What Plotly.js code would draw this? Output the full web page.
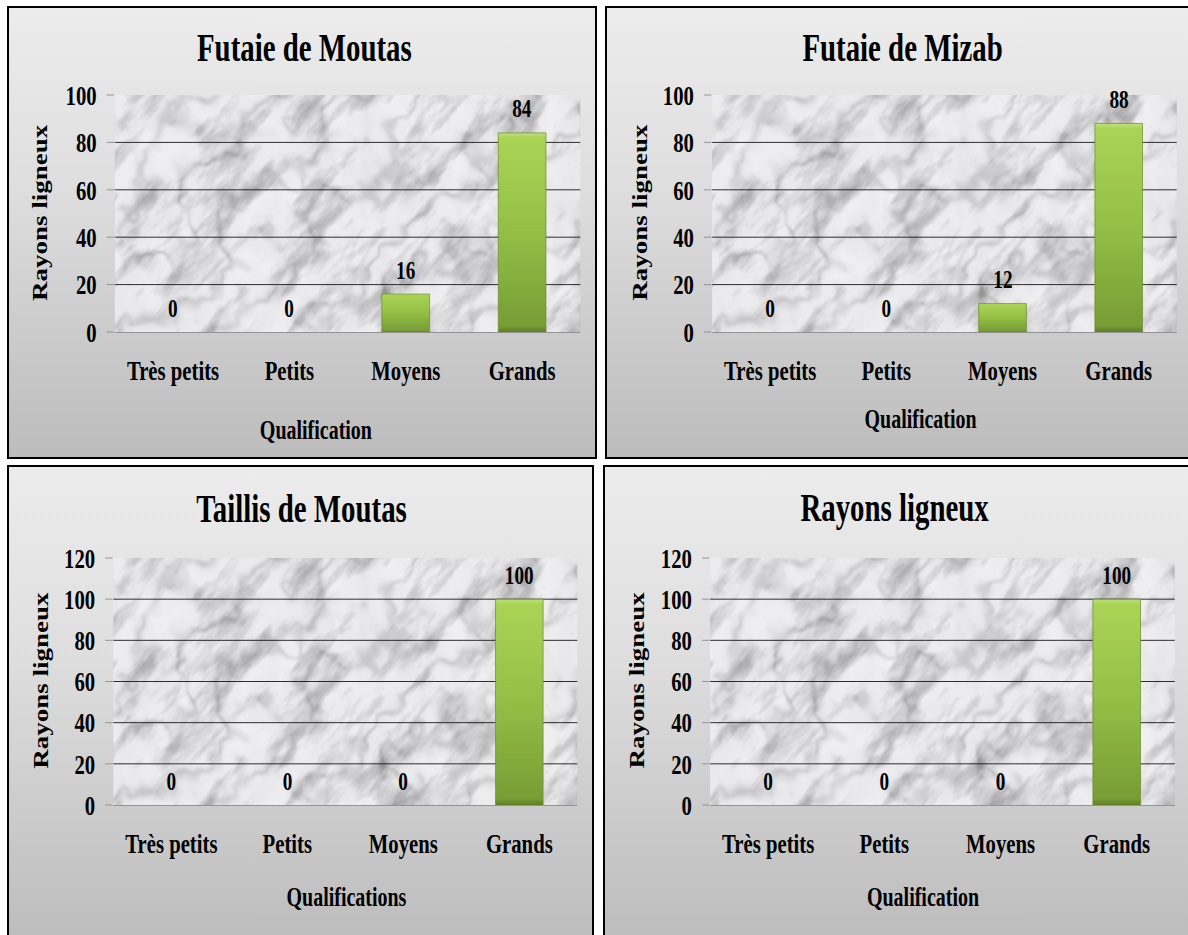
<!DOCTYPE html>
<html>
<head>
<meta charset="utf-8">
<script src="https://cdn.plot.ly/plotly-3.0.1.min.js"></script>
<style>
html,body{margin:0;padding:0;background:#fff;}
body{width:1188px;height:935px;overflow:hidden;position:relative;}
.panel{position:absolute;box-sizing:border-box;border:2px solid #000;
  background:linear-gradient(to bottom,#ececec 0%,#dedede 40%,#bcbcbc 100%);overflow:hidden;}
.plot{position:absolute;left:0;top:0;transform-origin:0 0;}
</style>
</head>
<body>
<div id="p1" class="panel"><div id="c1" class="plot"></div></div>
<div id="p2" class="panel"><div id="c2" class="plot"></div></div>
<div id="p3" class="panel"><div id="c3" class="plot"></div></div>
<div id="p4" class="panel"><div id="c4" class="plot"></div></div>
<script>
// ---------------- DATA ----------------
const categories = ['Très petits', 'Petits', 'Moyens', 'Grands'];
const futaieMoutas = [0, 0, 16, 84];
const futaieMizab = [0, 0, 12, 88];
const taillisMoutas = [0, 0, 0, 100];
const rayonsLigneux = [0, 0, 0, 100];
const chartTitles = ['Futaie de Moutas', 'Futaie de Mizab', 'Taillis de Moutas', 'Rayons ligneux'];
const xAxisTitles = ['Qualification', 'Qualification', 'Qualifications', 'Qualification'];
const yAxisTitle = 'Rayons ligneux';
const yMax = [100, 100, 120, 120];
const seriesList = [futaieMoutas, futaieMizab, taillisMoutas, rayonsLigneux];

// ---------------- LAYOUT GEOMETRY (final pixels) ----------------
const S = 0.74; // horizontal condensation of the original picture
const panels = [
  {id:'1', left:7,   top:6,   w:590, h:453, plot:[115,580,95,332],  title:[304,47],  xt:[316,430], yt:[41,212]},
  {id:'2', left:605, top:6,   w:590, h:453, plot:[712,1177,95,332], title:[903,47],  xt:[921,419], yt:[640,212]},
  {id:'3', left:7,   top:465, w:587, h:480, plot:[113,577,558,805], title:[301,508], xt:[346,897], yt:[41,680]},
  {id:'4', left:603, top:465, w:590, h:480, plot:[710,1175,558,805],title:[895,508], xt:[923,897], yt:[637,680]}
];

// ---------------- MARBLE TEXTURE (decorative background) ----------------
function hash(x, y) {
  let h = (Math.imul(x, 374761393) + Math.imul(y, 668265263)) | 0;
  h = Math.imul(h ^ (h >>> 13), 1274126177);
  h = h ^ (h >>> 16);
  return (h >>> 0) / 4294967296;
}
function vnoise(x, y) {
  const xi = Math.floor(x), yi = Math.floor(y);
  const xf = x - xi, yf = y - yi;
  const u = xf * xf * (3 - 2 * xf), v = yf * yf * (3 - 2 * yf);
  const a = hash(xi, yi), b = hash(xi + 1, yi), c = hash(xi, yi + 1), d = hash(xi + 1, yi + 1);
  return a + (b - a) * u + (c - a) * v + (a - b - c + d) * u * v;
}
function fbm(x, y, oct) {
  let t = 0, f = 1, amp = 1, tot = 0;
  for (let o = 0; o < oct; o++) {
    t += vnoise(x * f + o * 17.3, y * f - o * 9.1) * amp;
    tot += amp; f *= 2; amp *= 0.55;
  }
  return t / tot;
}
function makeMarble() {
  const W = 640, H = 240;
  const cv = document.createElement('canvas');
  cv.width = W; cv.height = H;
  const ctx = cv.getContext('2d');
  const img = ctx.createImageData(W, H);
  const r2 = Math.SQRT1_2;
  for (let y = 0; y < H; y++) {
    for (let x = 0; x < W; x++) {
      const a = (x - y * 1.3) * r2;
      const b = (x * 0.8 + y) * r2;
      const n1 = fbm(a / 60, b / 16, 5);
      const n2 = fbm(x / 25 + 40, y / 25, 4);
      const warp = fbm(a / 50 + 5, b / 50 + 3, 3);
      const s = Math.abs(Math.sin(b * 0.05 + warp * 6));
      const vein = Math.exp(-Math.pow(s / 0.45, 2)) * (0.3 + 0.7 * n2);
      const smudge = Math.max(0, n1 - 0.48) * 2;
      let c = 244 - vein * 40 - smudge * 75 - n2 * 16;
      c = Math.max(150, Math.min(250, c));
      const i = (y * W + x) * 4;
      img.data[i] = c; img.data[i + 1] = c; img.data[i + 2] = c + 2; img.data[i + 3] = 255;
    }
  }
  ctx.putImageData(img, 0, 0);
  return cv.toDataURL('image/png');
}
const marble = makeMarble();

const FONT = 'Liberation Serif, Times New Roman, serif';

function drawPanel(p, k) {
  const box = document.getElementById('p' + p.id);
  box.style.left = p.left + 'px'; box.style.top = p.top + 'px';
  box.style.width = p.w + 'px'; box.style.height = p.h + 'px';
  const ox = p.left + 2, oy = p.top + 2;
  const innerW = p.w - 4, innerH = p.h - 4;
  const W = innerW / S;
  const l = (p.plot[0] - ox) / S;
  const r = (innerW - (p.plot[1] - ox)) / S;
  const t = p.plot[2] - oy;
  const b = innerH - (p.plot[3] - oy);
  const pw = W - l - r, ph = innerH - t - b;
  const px = fx => ((fx - ox) / S - l) / pw;
  const py = fy => 1 - ((fy - oy) - t) / ph;

  const el = document.getElementById('c' + p.id);
  el.style.width = W + 'px'; el.style.height = innerH + 'px';
  el.style.transform = 'scaleX(' + S + ')';

  const vals = seriesList[k];
  const trace = {
    type: 'bar', x: categories, y: vals, width: 0.41,
    marker: {color: '#93c047', line: {width: 0}},
    hoverinfo: 'skip', showlegend: false
  };
  const labelAnn = categories.map((c, i) => ({
    x: c, y: vals[i], xref: 'x', yref: 'y', text: String(vals[i]), showarrow: false,
    yanchor: 'middle', yshift: 24, font: {family: FONT, size: 26, color: '#000', weight: 700}
  }));
  const textAnn = [
    {text: chartTitles[k], x: px(p.title[0]), y: py(p.title[1]), size: 39},
    {text: xAxisTitles[k], x: px(p.xt[0]), y: py(p.xt[1]), size: 27},
    {text: yAxisTitle, x: px(p.yt[0]), y: py(p.yt[1]), size: 27, angle: -90}
  ].map(a => ({
    xref: 'paper', yref: 'paper', x: a.x, y: a.y, text: a.text, showarrow: false,
    xanchor: 'center', yanchor: 'middle', textangle: a.angle || 0,
    font: {family: FONT, size: a.size, color: '#000', weight: 700}
  }));

  const layout = {
    width: W, height: innerH,
    margin: {l: l, r: r, t: t, b: b, pad: 0},
    paper_bgcolor: 'rgba(0,0,0,0)', plot_bgcolor: 'rgba(0,0,0,0)',
    font: {family: FONT, color: '#000'},
    showlegend: false,
    xaxis: {
      type: 'category', showgrid: false, zeroline: false,
      showline: true, linecolor: '#8a8a8a', linewidth: 1,
      ticks: '', ticklabelstandoff: 13,
      tickfont: {family: FONT, size: 28, color: '#000', weight: 700}
    },
    yaxis: {
      range: [0, yMax[k]], dtick: 20, tick0: 0,
      showgrid: true, gridcolor: '#111', gridwidth: 1, zeroline: false,
      showline: false, ticks: 'outside', ticklen: 10, tickcolor: '#8a8a8a', tickwidth: 1,
      ticklabelstandoff: 8,
      tickfont: {family: FONT, size: 28, color: '#000', weight: 700}
    },
    images: [{source: marble, xref: 'paper', yref: 'paper', x: 0, y: 1, sizex: 1, sizey: 1,
      sizing: 'stretch', layer: 'below'}],
    annotations: labelAnn.concat(textAnn)
  };
  return Plotly.newPlot(el, [trace], layout, {staticPlot: true, displayModeBar: false}).then(gd => {
    const svg = gd.querySelector('svg.main-svg');
    const ns = 'http://www.w3.org/2000/svg';
    let defs = svg.querySelector('defs');
    if (!defs) { defs = document.createElementNS(ns, 'defs'); svg.insertBefore(defs, svg.firstChild); }
    const gid = 'barGrad' + p.id;
    const lg = document.createElementNS(ns, 'linearGradient');
    lg.setAttribute('id', gid);
    lg.setAttribute('x1', '0'); lg.setAttribute('y1', '0'); lg.setAttribute('x2', '0'); lg.setAttribute('y2', '1');
    [['0', '#c0e07a'], ['0.025', '#a9d456'], ['0.5', '#93bf46'], ['0.97', '#779d35'], ['1', '#5e7e26']].forEach(st => {
      const s = document.createElementNS(ns, 'stop');
      s.setAttribute('offset', st[0]); s.setAttribute('stop-color', st[1]);
      lg.appendChild(s);
    });
    defs.appendChild(lg);
    gd.querySelectorAll('.barlayer .point path').forEach(pa => {
      pa.style.fill = 'url(#' + gid + ')';
      let hgt = 0;
      try { hgt = pa.getBBox().height; } catch (e) { hgt = 0; }
      if (hgt > 1) {
        pa.style.stroke = '#6a8a2c'; pa.style.strokeWidth = '1px'; pa.style.strokeOpacity = '0.8';
      } else {
        pa.style.stroke = 'none';
      }
    });
  });
}
panels.forEach((p, k) => drawPanel(p, k));
</script>
</body>
</html>
